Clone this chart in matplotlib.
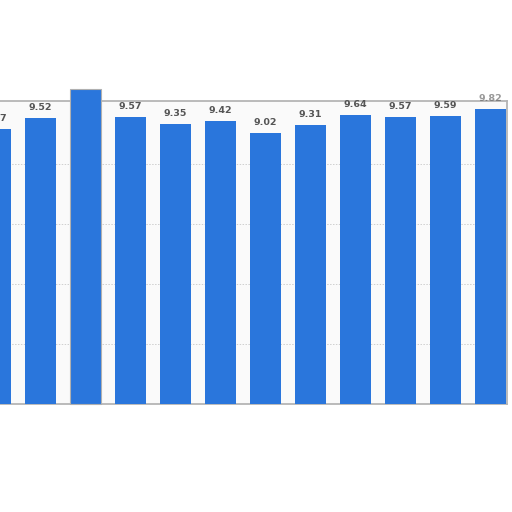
import matplotlib
matplotlib.use("Agg")
import matplotlib.pyplot as plt
import numpy as np

values = [9.17, 9.52, 10.5, 9.57, 9.35, 9.42, 9.02, 9.31, 9.64, 9.57, 9.59, 9.82]
labels = ["9.17", "9.52", "", "9.57", "9.35", "9.42", "9.02", "9.31", "9.64", "9.57", "9.59", "9.82"]
grid_values = [2, 4, 6, 8]

W = H = 512
fig = plt.figure(figsize=(W / 100, H / 100), dpi=100)
fig.patch.set_facecolor("white")
ax = fig.add_axes([0, (H - 404) / H, 507 / W, (404 - 101) / H])
ax.set_facecolor("#fafafa")

x = np.arange(len(values))
bars = ax.bar(x, values, width=0.69, color="#2a76dc", zorder=3, clip_on=False)
for b, v in zip(bars, values):
    if v > 10.1:
        b.set_edgecolor("#b0b0b0")
        b.set_linewidth(0.8)

for xi, v, lab in zip(x, values, labels):
    if lab:
        ax.text(xi, v + 0.2, lab, ha="center", va="bottom", fontsize=6.8,
                fontweight="bold", color="#555555", zorder=4,
                alpha=0.6 if v > 9.7 else 1.0)

for g in grid_values:
    ax.axhline(g, color="#cfcfcf", lw=0.7, ls=(0, (1.5, 1.5)), zorder=1)

ax.set_xlim(0.1, 511.5 / 45)
ax.set_ylim(0, 303 / 30)
ax.set_xticks([])
ax.set_yticks([])
for s in ["top", "right", "bottom"]:
    ax.spines[s].set_color("#b5b5b5")
    ax.spines[s].set_linewidth(1.3)
ax.spines["left"].set_visible(False)

fig.savefig("out.png", dpi=100, facecolor="white")
